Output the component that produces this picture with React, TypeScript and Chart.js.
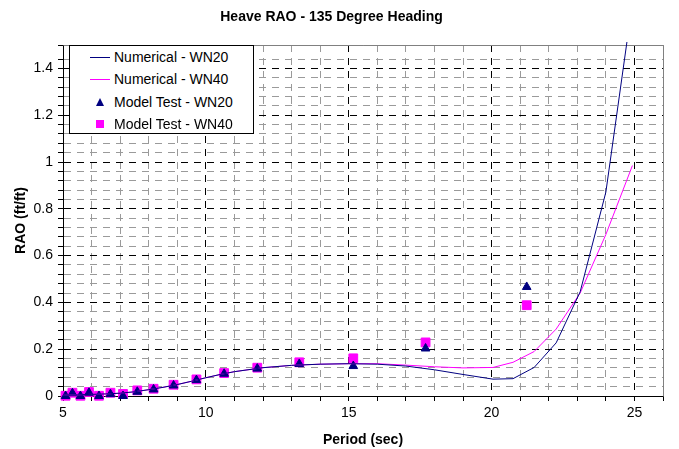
import React, { useEffect, useRef } from "react";
import { Chart, registerables } from "chart.js";

Chart.register(...registerables);

// ---- Data ----
const numPeriods = [5, 5.5, 6, 6.5, 7, 7.5, 8, 8.5, 9, 9.5, 10, 10.5, 11, 12, 13, 14, 15, 16, 17, 18, 19, 20.05, 20.75, 21.49, 22.26, 23.1, 24.0, 24.93];
const numericalWN20 = [0.003, 0.005, 0.007, 0.009, 0.012, 0.018, 0.027, 0.037, 0.049, 0.063, 0.078, 0.092, 0.104, 0.121, 0.131, 0.136, 0.138, 0.136, 0.128, 0.112, 0.092, 0.072, 0.074, 0.122, 0.227, 0.445, 0.871, 1.68];
const numericalWN40 = [0.003, 0.005, 0.007, 0.009, 0.012, 0.018, 0.027, 0.037, 0.049, 0.063, 0.078, 0.092, 0.104, 0.121, 0.131, 0.136, 0.138, 0.138, 0.132, 0.125, 0.12, 0.122, 0.144, 0.19, 0.286, 0.44, 0.69, 0.985];

const testPeriods = [5.09, 5.33, 5.61, 5.91, 6.26, 6.66, 7.1, 7.6, 8.17, 8.87, 9.67, 10.64, 11.8, 13.27, 15.16, 17.69, 21.23];
const modelTestWN20 = [0.0, 0.012, 0.0, 0.014, 0.0, 0.008, 0.0, 0.018, 0.028, 0.045, 0.068, 0.095, 0.117, 0.137, 0.128, 0.203, 0.466];
const modelTestWN40 = [0.001, 0.014, 0.001, 0.017, 0.001, 0.014, 0.009, 0.024, 0.031, 0.048, 0.071, 0.098, 0.121, 0.144, 0.161, 0.229, 0.388];

const xLabelValues = [5, 10, 15, 20, 25];
const chartTitle = "Heave RAO - 135 Degree Heading";
const xTitle = "Period (sec)";
const yTitle = "RAO (ft/ft)";
const legendLabels = ["Numerical - WN20", "Numerical - WN40", "Model Test - WN20", "Model Test - WN40"];

const NAVY = "#000080";
const MAGENTA = "#FF00FF";
const FONT = "'Liberation Sans', Arial, sans-serif";

const zip = (xs: number[], ys: number[]) => xs.map((x, i) => ({ x, y: ys[i] }));

const framePlugin = {
  id: "frame",
  beforeDatasetsDraw(chart: any) {
    const { ctx, chartArea } = chart;
    ctx.save();
    ctx.strokeStyle = "#808080";
    ctx.lineWidth = 1;
    ctx.beginPath();
    ctx.moveTo(Math.round(chartArea.left) + 0.5, Math.round(chartArea.top) + 0.5);
    ctx.lineTo(Math.round(chartArea.right) + 0.5, Math.round(chartArea.top) + 0.5);
    ctx.lineTo(Math.round(chartArea.right) + 0.5, Math.round(chartArea.bottom) + 0.5);
    ctx.stroke();
    ctx.restore();
  },
};

function isMajorY(v: number) {
  const r = Math.round(v * 1000) / 1000;
  return Math.abs(r * 5 - Math.round(r * 5)) < 1e-6;
}

export default function App() {
  const ref = useRef<HTMLCanvasElement | null>(null);

  useEffect(() => {
    document.body.style.margin = "0";
    const canvas = ref.current!;
    const chart = new Chart(canvas, {
      type: "scatter",
      data: {
        datasets: [
          {
            label: legendLabels[0],
            data: zip(numPeriods, numericalWN20),
            showLine: true,
            borderColor: NAVY,
            backgroundColor: NAVY,
            borderWidth: 1,
            pointRadius: 0,
            tension: 0,
            clip: { left: 0, top: 3, right: 0, bottom: 0 },
          } as any,
          {
            label: legendLabels[1],
            data: zip(numPeriods, numericalWN40),
            showLine: true,
            borderColor: MAGENTA,
            backgroundColor: MAGENTA,
            borderWidth: 1,
            pointRadius: 0,
            tension: 0,
            clip: { left: 0, top: 3, right: 0, bottom: 0 },
          } as any,
          {
            label: legendLabels[2],
            data: zip(testPeriods, modelTestWN20),
            showLine: false,
            pointStyle: "triangle",
            pointRadius: 5,
            borderWidth: 1,
            borderColor: NAVY,
            backgroundColor: NAVY,
            clip: 8,
          } as any,
          {
            label: legendLabels[3],
            data: zip(testPeriods, modelTestWN40),
            showLine: false,
            pointStyle: "rect",
            pointRadius: 6.2,
            borderWidth: 1,
            borderColor: MAGENTA,
            backgroundColor: MAGENTA,
            clip: 8,
          } as any,
        ],
      },
      options: {
        responsive: false,
        animation: false,
        layout: { padding: { left: 0, right: 16, top: 0, bottom: 0 } },
        plugins: {
          legend: { display: false },
          tooltip: { enabled: false },
          title: {
            display: true,
            text: chartTitle,
            color: "#000",
            font: { family: FONT, size: 14, weight: "bold", lineHeight: 1.2 },
            padding: { top: 8.6, bottom: 19.6 },
          },
        },
        scales: {
          x: {
            type: "linear",
            min: 5,
            max: 26,
            afterFit(scale: any) {
              scale.height = 53;
            },
            ticks: {
              stepSize: 1,
              autoSkip: false,
              maxRotation: 0,
              minRotation: 0,
              padding: 4,
              color: "#000",
              font: { family: FONT, size: 14 },
              callback: (v: any) => (xLabelValues.includes(Math.round(Number(v) * 1000) / 1000) ? String(v) : ""),
            },
            grid: {
              color: (ctx: any) => (ctx.tick && Math.round(ctx.tick.value) % 5 === 0 ? "#000" : "#9a9a9a"),
              tickColor: "#000",
              tickLength: 5,
              lineWidth: 1,
            },
            border: { display: true, color: "#000", width: 1, dash: [7, 6] },
            title: {
              display: true,
              text: xTitle,
              color: "#000",
              font: { family: FONT, size: 14, weight: "bold", lineHeight: 1.2 },
              padding: { top: 0, bottom: 0 },
            },
          },
          y: {
            type: "linear",
            min: 0,
            max: 1.5,
            afterFit(scale: any) {
              scale.width = 63;
            },
            ticks: {
              stepSize: 0.04,
              maxTicksLimit: 1000,
              autoSkip: false,
              padding: 5,
              color: "#000",
              font: { family: FONT, size: 14 },
              callback: (v: any) => {
                const n = Number(v);
                if (n > 1.45) return "";
                return isMajorY(n) ? String(Math.round(n * 10) / 10) : "";
              },
            },
            grid: {
              color: (ctx: any) => (ctx.tick && isMajorY(ctx.tick.value) && ctx.tick.value < 1.45 ? "#000" : "#9a9a9a"),
              tickColor: "#000",
              tickLength: 5,
              lineWidth: 1,
            },
            border: { display: true, color: "#000", width: 1, dash: [7, 6] },
            title: {
              display: true,
              text: yTitle,
              color: "#000",
              font: { family: FONT, size: 14, weight: "bold", lineHeight: 1.2 },
              padding: { top: 12.6, bottom: 0 },
            },
          },
        },
      },
      plugins: [framePlugin],
    } as any);
    return () => chart.destroy();
  }, []);

  const rowStyle: React.CSSProperties = {
    position: "absolute",
    left: 0,
    height: 22,
    display: "flex",
    alignItems: "center",
    whiteSpace: "nowrap",
  };
  const markerBox: React.CSSProperties = {
    width: 20,
    height: 22,
    marginLeft: 20,
    marginRight: 4,
    position: "relative",
  };
  const rowTops = [0, 22, 45, 67];

  return (
    <div style={{ position: "fixed", left: 0, top: 0, width: 679, height: 449, background: "#fff" }}>
      <canvas ref={ref} width={679} height={449} style={{ display: "block" }} />
      <div
        style={{
          position: "absolute",
          left: 69,
          top: 45,
          width: 183,
          height: 87,
          background: "#fff",
          border: "1px solid #000",
          fontFamily: FONT,
          fontSize: 14,
          color: "#000",
        }}
      >
        {legendLabels.map((label, i) => (
          <div key={label} style={{ ...rowStyle, top: rowTops[i] }}>
            <div style={markerBox}>
              {i === 0 && <div style={{ position: "absolute", left: 0, top: 11, width: 20, height: 1, background: NAVY }} />}
              {i === 1 && <div style={{ position: "absolute", left: 0, top: 11, width: 20, height: 1, background: MAGENTA }} />}
              {i === 2 && (
                <div
                  style={{
                    position: "absolute",
                    left: 6,
                    top: 7,
                    width: 0,
                    height: 0,
                    borderLeft: "4px solid transparent",
                    borderRight: "4px solid transparent",
                    borderBottom: `8px solid ${NAVY}`,
                  }}
                />
              )}
              {i === 3 && <div style={{ position: "absolute", left: 6, top: 7, width: 8, height: 8, background: MAGENTA }} />}
            </div>
            <span>{label}</span>
          </div>
        ))}
      </div>
    </div>
  );
}
